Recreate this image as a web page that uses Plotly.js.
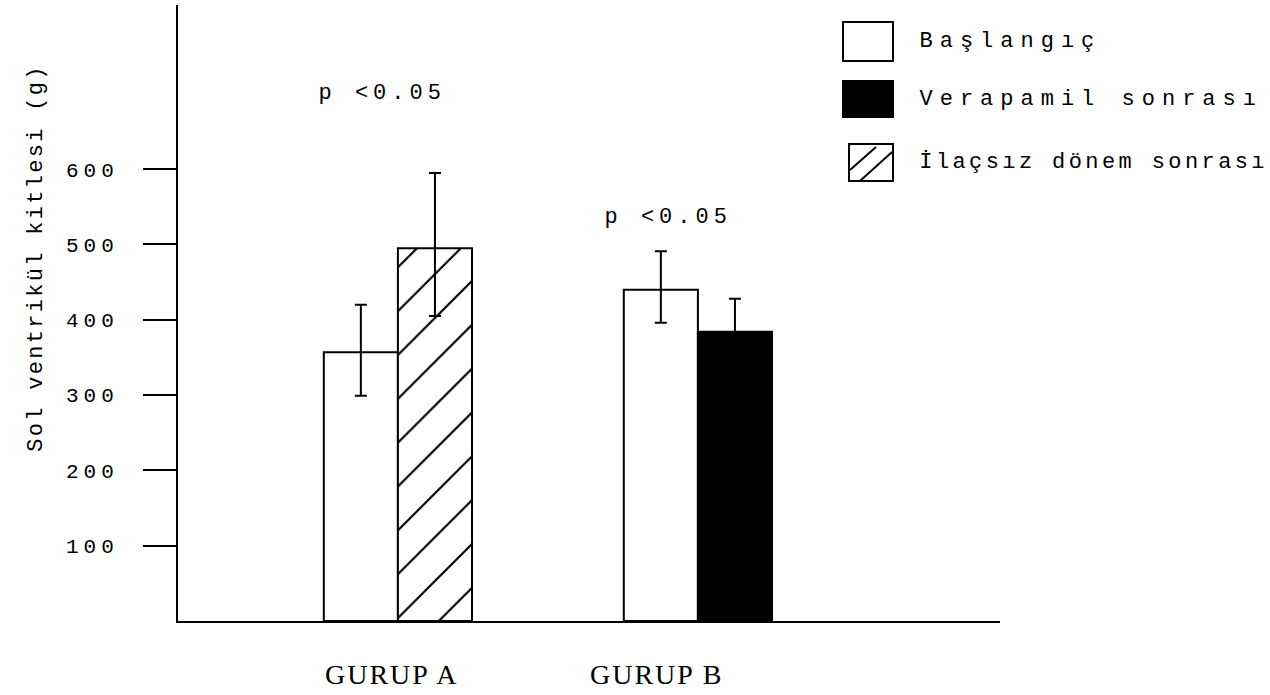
<!DOCTYPE html>
<html>
<head>
<meta charset="utf-8">
<script src="https://cdn.plot.ly/plotly-3.0.1.min.js"></script>
<style>
  body { margin: 0; background: #fff; }
  #chart { width: 1270px; height: 695px; }
  .ytick text { letter-spacing: 5px; }
  .annotation[data-index="0"] text { letter-spacing: 2.3px; }
  .annotation[data-index="1"] text, .annotation[data-index="2"] text { letter-spacing: 5px; }
  .annotation[data-index="3"] text, .annotation[data-index="4"] text { letter-spacing: 2px; }
  .annotation[data-index="5"] text, .annotation[data-index="6"] text { letter-spacing: 7px; }
  .annotation[data-index="7"] text { letter-spacing: 3.4px; }
</style>
</head>
<body>
<div id="chart"></div>
<script>
// ---- data ----
const categories = ['GURUP A', 'GURUP B'];
const seriesNames = ['Başlangıç', 'Verapamil sonrası', 'İlaçsız dönem sonrası'];

const baslangicX = ['GURUP A', 'GURUP B'];
const baslangicY = [357, 440];
const baslangicErrPlus = [63, 51];
const baslangicErrMinus = [58, 44];

const verapamilX = ['GURUP B'];
const verapamilY = [384];
const verapamilErr = [44];

const ilacsizX = ['GURUP A'];
const ilacsizY = [495];
const ilacsizErrPlus = [100];
const ilacsizErrMinus = [90];

const yTickVals = [100, 200, 300, 400, 500, 600];
const yTitle = 'Sol ventrikül kitlesi (g)';
const pText = 'p <0.05';

// ---- layout helpers (pixel -> paper) ----
const L = 178, R = 1000, T = 5, B = 621;
const px = x => (x - L) / (R - L);
const py = y => (B - y) / (B - T);

const font = 'Liberation Mono, DejaVu Sans Mono, monospace';
const serif = 'Liberation Serif, serif';
const barW = 0.247;
const errStyle = { color: '#000', thickness: 2, width: 6 };
const outline = { color: '#000', width: 2 };

const traces = [
  {
    type: 'bar', name: seriesNames[0], x: baslangicX, y: baslangicY,
    width: barW, offset: -barW,
    marker: { color: '#fff', line: outline },
    error_y: Object.assign({ type: 'data', symmetric: false, array: baslangicErrPlus, arrayminus: baslangicErrMinus }, errStyle),
    showlegend: false
  },
  {
    type: 'bar', name: seriesNames[1], x: verapamilX, y: verapamilY,
    width: barW, offset: 0,
    marker: { color: '#000', line: outline },
    error_y: Object.assign({ type: 'data', array: verapamilErr }, errStyle),
    showlegend: false
  },
  {
    type: 'bar', name: seriesNames[2], x: ilacsizX, y: ilacsizY,
    width: barW, offset: 0,
    marker: { color: '#fff', line: outline,
      pattern: { shape: '/', fgcolor: '#000', bgcolor: '#fff', size: 31, solidity: 0.07 } },
    error_y: Object.assign({ type: 'data', symmetric: false, array: ilacsizErrPlus, arrayminus: ilacsizErrMinus }, errStyle),
    showlegend: false
  }
];

const ann = (text, x, y, size, xanchor, extra) => Object.assign({
  text, x, y, xref: 'paper', yref: 'paper', showarrow: false,
  xanchor: xanchor, yanchor: 'middle',
  font: { family: font, size: size, color: '#000' }
}, extra || {});
// left-anchored text whose CSS letter-spacing (ls) is not included in Plotly's measurement
const annL = (text, xPx, yPx, size, ls) => ann(text, px(xPx + [...text].length * ls / 2), py(yPx), size, 'left');

const annotations = [
  ann(yTitle, px(36), py(258), 22, 'center', { textangle: -90 }),
  annL(pText, 316, 93, 22, 5),
  annL(pText, 602, 218, 22, 5),
  ann(categories[0], px(392), py(674), 28, 'center', { font: { family: serif, size: 28, color: '#000' } }),
  ann(categories[1], px(657), py(675), 28, 'center', { font: { family: serif, size: 28, color: '#000' } }),
  annL(seriesNames[0], 917, 42, 22, 7),
  annL(seriesNames[1], 917, 99, 22, 7),
  annL(seriesNames[2], 917, 163, 22, 3.4)
];

const rect = (x0, y0, x1, y1, fill) => ({
  type: 'rect', xref: 'paper', yref: 'paper',
  x0: px(x0), x1: px(x1), y0: py(y1), y1: py(y0),
  line: { color: '#000', width: 2 }, fillcolor: fill
});
const seg = (x0, y0, x1, y1) => ({
  type: 'line', xref: 'paper', yref: 'paper',
  x0: px(x0), x1: px(x1), y0: py(y0), y1: py(y1),
  line: { color: '#000', width: 2 }
});

const shapes = [
  rect(843, 22, 893, 61, '#fff'),
  rect(843, 81, 893, 117, '#000'),
  rect(849, 144, 893, 181, '#fff'),
  seg(850, 170, 876, 147),
  seg(860, 181, 892, 152)
];

const layout = {
  width: 1270, height: 695,
  margin: { l: L, r: 1270 - R, t: T, b: 695 - B },
  paper_bgcolor: '#fff', plot_bgcolor: '#fff',
  barmode: 'overlay',
  showlegend: false,
  xaxis: {
    type: 'category', categoryarray: categories,
    range: [-0.733, 2.007],
    showline: true, linecolor: '#000', linewidth: 2,
    showticklabels: false, ticks: '', showgrid: false, zeroline: false
  },
  yaxis: {
    range: [0, 818],
    tickvals: yTickVals,
    ticks: 'outside', ticklen: 33, tickwidth: 2, tickcolor: '#000',
    ticklabelstandoff: 20,
    tickfont: { family: font, size: 21, color: '#000' },
    showline: true, linecolor: '#000', linewidth: 2,
    showgrid: false, zeroline: false
  },
  annotations, shapes
};

Plotly.newPlot('chart', traces, layout, { displayModeBar: false, staticPlot: true });
</script>
</body>
</html>
